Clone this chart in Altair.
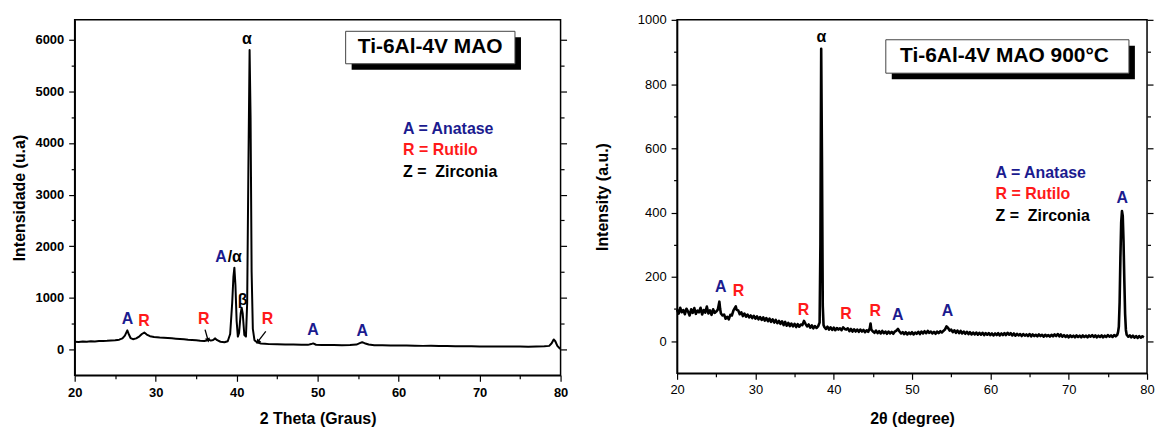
import altair as alt
import pandas as pd

FONT = "Liberation Sans"
NAVY = "#1b1b8f"
RED = "#ff1a1a"
BLACK = "#000000"

# ---------------- Left panel data (Ti-6Al-4V MAO) ----------------
left_pts = [
    (20.0, 150), (20.5, 146), (21.0, 156), (21.5, 151), (22.0, 158), (22.5, 157),
    (23.0, 163), (23.5, 166), (24.0, 169), (24.5, 174), (25.0, 178), (25.5, 190),
    (25.9, 215), (26.2, 270), (26.5, 370), (26.7, 290), (26.9, 222), (27.2, 200),
    (27.6, 215), (28.0, 255), (28.3, 300), (28.6, 328), (28.9, 290), (29.3, 258),
    (29.8, 242), (30.5, 232), (31.0, 228), (31.5, 222), (32.0, 216), (32.5, 210),
    (33.0, 205), (33.5, 198), (34.0, 190), (34.5, 184), (35.0, 178), (35.5, 170),
    (36.0, 165), (36.3, 175), (36.5, 195), (36.8, 172), (37.1, 185), (37.35, 215),
    (37.6, 180), (38.0, 150), (38.5, 140), (38.9, 160), (39.2, 300), (39.45, 900),
    (39.6, 1400), (39.72, 1585), (39.85, 1250), (40.0, 550), (40.15, 250), (40.3, 320),
    (40.5, 700), (40.62, 810), (40.75, 700), (40.95, 280), (41.15, 250), (41.3, 900),
    (41.45, 3500), (41.6, 5800), (41.72, 4500), (41.85, 1500), (42.0, 400), (42.2, 180),
    (42.5, 140), (43.0, 115), (43.5, 110), (44.0, 104), (45.0, 100), (46.0, 98),
    (47.0, 96), (48.0, 92), (48.8, 90), (49.2, 105), (49.45, 118), (49.8, 92),
    (50.5, 86), (51.0, 88), (52.0, 85), (53.0, 84), (54.0, 86), (54.8, 95),
    (55.2, 122), (55.5, 140), (55.8, 122), (56.3, 96), (57.0, 82), (58.0, 80),
    (59.0, 78), (60.0, 76), (61.0, 75), (62.0, 72), (63.0, 70), (64.0, 74),
    (65.0, 68), (66.0, 66), (67.0, 64), (68.0, 62), (69.0, 62), (70.0, 60),
    (71.0, 60), (72.0, 58), (73.0, 56), (74.0, 60), (75.0, 56), (76.0, 55),
    (77.0, 58), (78.0, 62), (78.6, 70), (78.9, 120), (79.15, 195), (79.35, 160),
    (79.6, 70), (79.85, 30), (80.0, 10),
]

left_peak_labels = [
    ("A", 26.52, 598, NAVY), ("R", 28.56, 546, RED), ("R", 35.95, 592, RED),
    ("A", 38.08, 1795, NAVY), ("/α", 39.77, 1795, BLACK), ("β", 40.74, 965, BLACK),
    ("α", 41.26, 6010, BLACK), ("R", 43.82, 592, RED), ("A", 49.43, 373, NAVY),
    ("A", 55.5, 353, NAVY),
]
left_legend = [
    ("A = Anatase", 60.55, 4280, NAVY),
    ("R = Rutilo", 60.55, 3861, RED),
    ("Z =\u00a0 Zirconia", 60.55, 3442, BLACK),
]
# arrows: tail x, tail y, head x, head y, head angle
left_arrows = [(36.1, 386, 36.44, 193, 165), (43.6, 353, 42.67, 160, 218)]
left_box = (53.46, 74.37, 6164, 5535)
left_shadow = (54.2, 75.11, 6048, 5419)
left_title = ("Ti-6Al-4V MAO", 63.9, 5850)

# ---------------- Right panel data (Ti-6Al-4V MAO 900°C) ----------------
right_pts = [
    (20.0, 98), (20.2, 86), (20.4, 104), (20.6, 90), (20.8, 97), (21.0, 84),
    (21.2, 101), (21.4, 92), (21.6, 80), (21.8, 99), (22.0, 88), (22.2, 103),
    (22.4, 85), (22.6, 95), (22.8, 90), (23.0, 104), (23.2, 83), (23.4, 97),
    (23.6, 89), (23.8, 108), (24.0, 86), (24.2, 96), (24.4, 82), (24.6, 99),
    (24.8, 88), (25.0, 92), (25.2, 98), (25.3, 110), (25.4, 123), (25.5, 100),
    (25.6, 86), (25.8, 80), (26.0, 83), (26.2, 70), (26.4, 76), (26.6, 68),
    (26.8, 82), (27.0, 80), (27.2, 96), (27.4, 104), (27.5, 108), (27.6, 98),
    (27.8, 96), (28.0, 84), (28.2, 90), (28.4, 78), (28.6, 86), (28.8, 76),
    (29.0, 83), (29.2, 74), (29.4, 80), (29.6, 72), (29.8, 79), (30.0, 70),
    (30.2, 77), (30.4, 68), (30.6, 75), (30.8, 66), (31.0, 74), (31.2, 64),
    (31.4, 72), (31.6, 62), (31.8, 70), (32.0, 60), (32.2, 68), (32.4, 58),
    (32.6, 66), (32.8, 56), (33.0, 63), (33.2, 54), (33.4, 62), (33.6, 50),
    (33.8, 60), (34.0, 48), (34.2, 57), (34.4, 47), (34.6, 55), (34.8, 46),
    (35.0, 54), (35.2, 44), (35.4, 53), (35.6, 45), (35.8, 52), (36.0, 50),
    (36.2, 63), (36.4, 54), (36.6, 46), (36.8, 52), (37.0, 42), (37.2, 49),
    (37.4, 40), (37.6, 47), (37.8, 41), (38.0, 46), (38.2, 58), (38.3, 300),
    (38.4, 910), (38.5, 560), (38.6, 110), (38.7, 50), (38.8, 44), (39.0, 38),
    (39.2, 45), (39.4, 36), (39.6, 43), (39.8, 35), (40.0, 42), (40.2, 34),
    (40.4, 41), (40.6, 36), (40.8, 40), (41.0, 34), (41.2, 43), (41.4, 38),
    (41.6, 36), (41.8, 40), (42.0, 31), (42.2, 38), (42.4, 30), (42.6, 37),
    (42.8, 30), (43.0, 36), (43.2, 29), (43.4, 36), (43.6, 30), (43.8, 35),
    (44.0, 28), (44.2, 34), (44.4, 29), (44.6, 40), (44.7, 55), (44.8, 36),
    (45.0, 30), (45.2, 26), (45.4, 33), (45.6, 25), (45.8, 31), (46.0, 24),
    (46.2, 32), (46.4, 25), (46.6, 30), (46.8, 23), (47.0, 30), (47.2, 24),
    (47.4, 29), (47.6, 23), (47.8, 30), (48.0, 33), (48.2, 38), (48.4, 30),
    (48.6, 24), (48.8, 28), (49.0, 22), (49.2, 28), (49.4, 21), (49.6, 27),
    (49.8, 22), (50.0, 28), (50.2, 21), (50.4, 27), (50.6, 23), (50.8, 29),
    (51.0, 22), (51.2, 30), (51.4, 24), (51.6, 31), (51.8, 25), (52.0, 32),
    (52.2, 26), (52.4, 30), (52.6, 24), (52.8, 29), (53.0, 23), (53.2, 30),
    (53.4, 25), (53.6, 31), (53.8, 27), (54.0, 32), (54.2, 36), (54.4, 46),
    (54.6, 41), (54.8, 33), (55.0, 36), (55.2, 28), (55.4, 34), (55.6, 26),
    (55.8, 33), (56.0, 25), (56.2, 32), (56.4, 24), (56.6, 30), (56.8, 23),
    (57.0, 29), (57.2, 22), (57.4, 28), (57.6, 21), (57.8, 27), (58.0, 21),
    (58.2, 27), (58.4, 20), (58.6, 26), (58.8, 20), (59.0, 26), (59.2, 19),
    (59.4, 25), (59.6, 20), (59.8, 25), (60.0, 19), (60.2, 24), (60.4, 18),
    (60.6, 24), (60.8, 19), (61.0, 25), (61.2, 18), (61.4, 24), (61.6, 19),
    (61.8, 25), (62.0, 19), (62.2, 26), (62.4, 20), (62.6, 25), (62.8, 18),
    (63.0, 24), (63.2, 17), (63.4, 23), (63.6, 18), (63.8, 22), (64.0, 16),
    (64.2, 22), (64.4, 17), (64.6, 21), (64.8, 16), (65.0, 22), (65.2, 15),
    (65.4, 21), (65.6, 16), (65.8, 20), (66.0, 15), (66.2, 21), (66.4, 16),
    (66.6, 20), (66.8, 14), (67.0, 20), (67.2, 15), (67.4, 19), (67.6, 14),
    (67.8, 20), (68.0, 15), (68.2, 21), (68.4, 16), (68.6, 22), (68.8, 15),
    (69.0, 21), (69.2, 14), (69.4, 19), (69.6, 13), (69.8, 18), (70.0, 12),
    (70.2, 18), (70.4, 13), (70.6, 17), (70.8, 12), (71.0, 18), (71.2, 13),
    (71.4, 17), (71.6, 12), (71.8, 18), (72.0, 13), (72.2, 17), (72.4, 12),
    (72.6, 18), (72.8, 14), (73.0, 19), (73.2, 13), (73.4, 18), (73.6, 12),
    (73.8, 17), (74.0, 13), (74.2, 18), (74.4, 12), (74.6, 17), (74.8, 13),
    (75.0, 19), (75.2, 14), (75.4, 18), (75.6, 13), (75.8, 19), (76.0, 15),
    (76.2, 20), (76.3, 28), (76.4, 45), (76.5, 120), (76.6, 260), (76.7, 370),
    (76.8, 405), (76.9, 390), (77.0, 310), (77.1, 190), (77.2, 85), (77.3, 35),
    (77.4, 20), (77.6, 14), (77.8, 18), (78.0, 12), (78.2, 17), (78.4, 11),
    (78.6, 16), (78.8, 10), (79.0, 16), (79.2, 11), (79.4, 15), (79.6, 12),
]

right_peak_labels = [
    ("A", 25.59, 170, NAVY), ("R", 27.84, 156, RED), ("R", 36.14, 97, RED),
    ("α", 38.41, 948, BLACK), ("R", 41.56, 84, RED), ("R", 45.29, 94, RED),
    ("A", 48.17, 81, NAVY), ("A", 54.52, 94, NAVY), ("A", 76.84, 446, NAVY),
]
right_legend = [
    ("A = Anatase", 60.66, 522, NAVY),
    ("R = Rutilo", 60.66, 457, RED),
    ("Z =\u00a0 Zirconia", 60.66, 391, BLACK),
]
right_box = (46.65, 77.69, 938, 834)
right_shadow = (47.41, 78.45, 919, 815)
right_title = ("Ti-6Al-4V MAO 900°C", 61.8, 886)

x_major = [20, 30, 40, 50, 60, 70, 80]
x_minor = [25, 35, 45, 55, 65, 75]
left_y_major = [0, 1000, 2000, 3000, 4000, 5000, 6000]
left_y_minor = [500, 1500, 2500, 3500, 4500, 5500]
right_y_major = [0, 200, 400, 600, 800, 1000]
right_y_minor = [100, 300, 500, 700, 900]


def make_panel(pts, peaks, legend, arrows, box, shadow, title, xdom, ydom,
               ymaj, ymin, xtitle, ytitle, weight, w, h, ytitle_pad, xtitle_pad,
               xlabel_pad, line_w):
    xs = alt.Scale(domain=xdom, nice=False, zero=False)
    ys = alt.Scale(domain=ydom, nice=False, zero=False)
    common = dict(labelFont=FONT, labelFontSize=13, labelFontWeight=weight,
                  labelColor=BLACK, titleFont=FONT, titleFontSize=16,
                  titleFontWeight="bold", titleColor=BLACK, grid=False,
                  domainColor=BLACK, domainWidth=1.5, tickColor=BLACK,
                  tickWidth=1.2, tickSize=6, labelOverlap=False, format="d")
    tick_only = dict(labels=False, title=None, grid=False, domain=False,
                     tickColor=BLACK, tickWidth=1.2)
    x_axis = alt.Axis(values=x_major, orient="bottom", title=xtitle, labelPadding=xlabel_pad,
                      labelFlush=False, titlePadding=xtitle_pad, **common)
    y_axis = alt.Axis(values=ymaj, orient="left", title=ytitle, labelPadding=5,
                      minExtent=40, maxExtent=40, titlePadding=ytitle_pad, **common)
    x_minor_axis = alt.Axis(values=x_minor, orient="bottom", tickSize=3.5, **tick_only)
    y_minor_axis = alt.Axis(values=ymin, orient="left", tickSize=3.5, **tick_only)
    y_mirror = alt.Axis(values=ymaj, orient="right", tickSize=6, **tick_only)
    y_mirror_minor = alt.Axis(values=ymin, orient="right", tickSize=3.5, **tick_only)

    line_df = pd.DataFrame({"x": [p[0] for p in pts], "y": [p[1] for p in pts]})
    line = alt.Chart(line_df).mark_line(color=BLACK, strokeWidth=line_w, strokeJoin="round").encode(
        x=alt.X("x:Q", scale=xs, axis=x_axis),
        y=alt.Y("y:Q", scale=ys, axis=y_axis),
    )

    peak_df = pd.DataFrame(peaks, columns=["t", "x", "y", "c"])
    peak_text = alt.Chart(peak_df).mark_text(
        font=FONT, fontSize=16, fontWeight="bold", align="center", baseline="middle"
    ).encode(
        x=alt.X("x:Q", axis=None),
        y=alt.Y("y:Q", axis=y_mirror),
        text="t:N",
        color=alt.Color("c:N", scale=None),
    )

    leg_df = pd.DataFrame(legend, columns=["t", "x", "y", "c"])
    leg_text = alt.Chart(leg_df).mark_text(
        font=FONT, fontSize=16, fontWeight="bold", align="left", baseline="middle"
    ).encode(
        x=alt.X("x:Q", axis=x_minor_axis),
        y=alt.Y("y:Q", axis=y_minor_axis),
        text="t:N",
        color=alt.Color("c:N", scale=None),
    )

    sh_df = pd.DataFrame([shadow], columns=["x", "x2", "y", "y2"])
    shadow_rect = alt.Chart(sh_df).mark_rect(color=BLACK).encode(
        x=alt.X("x:Q", axis=None), x2="x2", y=alt.Y("y:Q", axis=None), y2="y2"
    )
    bx_df = pd.DataFrame([box], columns=["x", "x2", "y", "y2"])
    box_rect = alt.Chart(bx_df).mark_rect(fill="white", stroke="#444444", strokeWidth=1).encode(
        x=alt.X("x:Q", axis=None), x2="x2", y=alt.Y("y:Q", axis=None), y2="y2"
    )
    tt_df = pd.DataFrame([title], columns=["t", "x", "y"])
    title_text = alt.Chart(tt_df).mark_text(
        font=FONT, fontSize=21, fontWeight="bold", align="center", baseline="middle", color=BLACK
    ).encode(x=alt.X("x:Q", axis=None), y=alt.Y("y:Q", axis=y_mirror_minor), text="t:N")

    layers = [line, shadow_rect, box_rect, title_text, leg_text, peak_text]

    if arrows:
        ar_df = pd.DataFrame(arrows, columns=["x", "y", "x2", "y2", "ang"])
        shaft = alt.Chart(ar_df).mark_rule(color=BLACK, strokeWidth=1.3).encode(
            x=alt.X("x:Q", axis=None), y=alt.Y("y:Q", axis=None), x2="x2", y2="y2"
        )
        head = alt.Chart(ar_df).mark_point(shape="triangle", filled=True, color=BLACK,
                                           size=28, opacity=1).encode(
            x=alt.X("x2:Q", axis=None), y=alt.Y("y2:Q", axis=None),
            angle=alt.Angle("ang:Q", scale=None),
        )
        layers += [shaft, head]

    return (alt.layer(*layers)
            .resolve_axis(x="independent", y="independent")
            .properties(width=w, height=h))


left = make_panel(left_pts, left_peak_labels, left_legend, left_arrows, left_box,
                  left_shadow, left_title, [20, 80], [-500, 6386], left_y_major,
                  left_y_minor, "2 Theta (Graus)", "Intensidade (u.a)", "bold",
                  488, 357, 7, 11, 5, 2)
right = make_panel(right_pts, right_peak_labels, right_legend, [], right_box,
                   right_shadow, right_title, [20, 80], [-100, 1000], right_y_major,
                   right_y_minor, "2θ (degree)", "Intensity (a.u.)", "normal",
                   472, 355, 27, 14, 4, 2.6)

chart = alt.hconcat(left, right, spacing=25).properties(
    padding={"left": 11, "top": 12, "right": 0, "bottom": 0},
    background="white",
).configure(font=FONT).configure_view(stroke=BLACK, strokeWidth=1.5)

chart.save("out.html", embed_options={"renderer": "svg", "actions": False})
